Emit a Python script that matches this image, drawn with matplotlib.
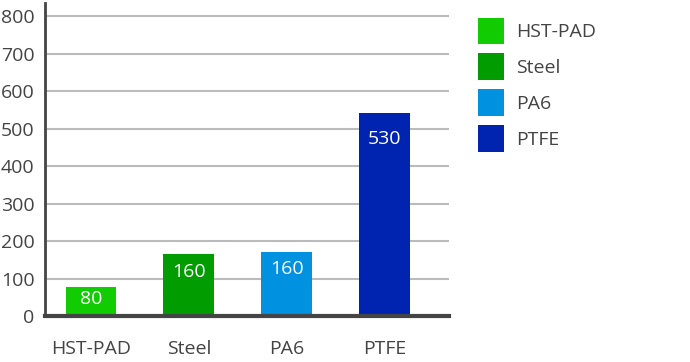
import matplotlib
matplotlib.use("Agg")
import matplotlib.pyplot as plt
from matplotlib.patches import Patch

categories = ["HST-PAD", "Steel", "PA6", "PTFE"]
values = [78, 165, 171, 543]
value_labels = ["80", "160", "160", "530"]
colors = ["#10cc00", "#009c00", "#0091e0", "#0024b0"]
yticks = [0, 100, 200, 300, 400, 500, 600, 700, 800]

plt.rcParams['font.family'] = ['Open Sans', 'DejaVu Sans']
txt = "#444444"

fig = plt.figure(figsize=(6.9, 3.62), dpi=100)
ax = fig.add_axes([45/690, 1-316/362, (449-45)/690, (316-3)/362])

x = list(range(len(categories)))
bars = ax.bar(x, values, width=0.52, color=colors, zorder=3)
ax.set_xlim(-0.47, 3.66)
ax.set_ylim(0, 836)
ax.set_yticks(yticks)
ax.set_yticklabels([str(t) for t in yticks], fontsize=14, color=txt)
ax.set_xticks(x)
ax.set_xticklabels(categories, fontsize=14, color=txt)
ax.tick_params(axis='y', length=0, pad=7.5)
ax.tick_params(axis='x', length=0, pad=17)
ax.grid(axis='y', color="#bbbbbb", linewidth=1.5, zorder=0)
for s in ['top', 'right']:
    ax.spines[s].set_visible(False)
ax.spines['left'].set_color(txt)
ax.spines['left'].set_linewidth(2)
ax.spines['bottom'].set_color(txt)
ax.spines['bottom'].set_linewidth(3)
ax.spines['bottom'].set_zorder(4)

offsets = [12, 18, 17, 26]
for b, lab, off in zip(bars, value_labels, offsets):
    ax.annotate(lab, (b.get_x() + b.get_width()/2, b.get_height()),
                xytext=(0, -off*0.72), textcoords='offset points',
                ha='center', va='center', color='white', fontsize=14, zorder=5)

handles = [Patch(facecolor=c, edgecolor='none') for c in colors]
fig.legend(handles, categories, loc='upper left',
           bbox_to_anchor=(477.5/690, 1-17.7/362), frameon=False,
           fontsize=14, handlelength=1.37, handleheight=1.728,
           labelspacing=0.47, handletextpad=0.62, borderpad=0,
           borderaxespad=0, labelcolor=txt)

fig.savefig("out.png", dpi=100)
